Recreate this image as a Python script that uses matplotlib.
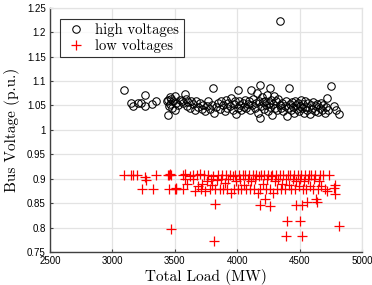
import numpy as np
import matplotlib
matplotlib.use("Agg")
import matplotlib.pyplot as plt

# ---------------------------------------
# Data
# ---------------------------------------
high_load = [3094, 3150, 3166, 3206, 3230, 3265, 3266, 3320, 3347, 3440, 3445, 3450, 3455,
             3460, 3463, 3470, 3480, 3490, 3500, 3505, 3510, 3525, 3540, 3560, 3570, 3583,
             3590, 3600, 3610, 3620, 3630, 3645, 3660, 3670, 3690, 3700, 3715, 3730, 3745,
             3760, 3770, 3785, 3800, 3810, 3815, 3830, 3845, 3860, 3870, 3890, 3900, 3910,
             3920, 3930, 3945, 3955, 3965, 3975, 3985, 3995, 4005, 4011, 4015, 4025, 4035,
             4045, 4055, 4065, 4075, 4085, 4095, 4105, 4111, 4120, 4130, 4140, 4150, 4160,
             4165, 4175, 4186, 4186, 4190, 4200, 4205, 4215, 4220, 4230, 4240, 4245, 4255,
             4260, 4267, 4275, 4280, 4290, 4295, 4305, 4310, 4320, 4330, 4340, 4346, 4350,
             4360, 4370, 4380, 4390, 4400, 4405, 4418, 4425, 4430, 4440, 4450, 4455, 4465,
             4470, 4480, 4490, 4495, 4505, 4510, 4520, 4530, 4535, 4545, 4555, 4560, 4570,
             4580, 4590, 4600, 4610, 4620, 4630, 4640, 4650, 4660, 4670, 4680, 4690, 4700,
             4710, 4720, 4730, 4752, 4775, 4790, 4814]
high_volt = [1.081, 1.054, 1.049, 1.054, 1.055, 1.071, 1.048, 1.052, 1.060, 1.058, 1.062, 1.030, 1.048,
             1.068, 1.052, 1.064, 1.045, 1.060, 1.070, 1.040, 1.055, 1.050, 1.062, 1.058, 1.055, 1.073,
             1.064, 1.048, 1.056, 1.045, 1.060, 1.052, 1.040, 1.058, 1.047, 1.055, 1.042, 1.050, 1.038,
             1.048, 1.058, 1.043, 1.050, 1.085, 1.035, 1.047, 1.055, 1.042, 1.060, 1.050, 1.038, 1.062,
             1.045, 1.055, 1.048, 1.065, 1.040, 1.052, 1.058, 1.033, 1.045, 1.081, 1.060, 1.050, 1.040,
             1.055, 1.047, 1.062, 1.044, 1.052, 1.058, 1.040, 1.081, 1.050, 1.064, 1.045, 1.055, 1.075,
             1.035, 1.060, 1.092, 1.024, 1.048, 1.068, 1.056, 1.042, 1.060, 1.050, 1.072, 1.038, 1.055,
             1.046, 1.085, 1.062, 1.030, 1.052, 1.070, 1.045, 1.058, 1.040, 1.064, 1.050, 1.222, 1.045,
             1.055, 1.038, 1.048, 1.058, 1.028, 1.044, 1.085, 1.052, 1.040, 1.056, 1.046, 1.035, 1.060,
             1.050, 1.042, 1.055, 1.038, 1.048, 1.062, 1.044, 1.052, 1.035, 1.058, 1.046, 1.040, 1.055,
             1.032, 1.050, 1.042, 1.056, 1.038, 1.048, 1.052, 1.036, 1.045, 1.055, 1.040, 1.050, 1.034,
             1.046, 1.066, 1.040, 1.090, 1.048, 1.040, 1.032]

low_load = [3096, 3150, 3168, 3196, 3265, 3270, 3237, 3325, 3351, 3444, 3451, 3455, 3462, 3469,
            3469, 3500, 3508, 3512, 3565, 3570, 3580, 3583, 3600, 3620, 3650, 3650, 3660, 3680,
            3690, 3700, 3710, 3720, 3735, 3745, 3760, 3770, 3780, 3790, 3800, 3810, 3819, 3811,
            3825, 3835, 3850, 3860, 3870, 3880, 3890, 3900, 3910, 3920, 3930, 3945, 3955, 3965,
            3975, 3985, 3995, 4005, 4015, 4025, 4035, 4045, 4055, 4065, 4075, 4085, 4095, 4105,
            4115, 4125, 4135, 4145, 4155, 4165, 4175, 4185, 4186, 4195, 4205, 4215, 4226, 4230,
            4240, 4250, 4260, 4267, 4270, 4280, 4290, 4300, 4310, 4320, 4330, 4340, 4350, 4360,
            4370, 4380, 4391, 4400, 4395, 4405, 4415, 4425, 4435, 4445, 4455, 4465, 4471, 4475,
            4485, 4495, 4506, 4505, 4515, 4519, 4519, 4525, 4535, 4545, 4555, 4559, 4565, 4575,
            4585, 4595, 4605, 4615, 4625, 4631, 4639, 4645, 4655, 4665, 4675, 4690, 4700, 4720,
            4740, 4775, 4787, 4787, 4814]
low_volt = [0.908, 0.908, 0.908, 0.908, 0.903, 0.897, 0.878, 0.878, 0.908, 0.908, 0.878, 0.908, 0.910, 0.908,
            0.797, 0.878, 0.878, 0.880, 0.878, 0.908, 0.900, 0.910, 0.890, 0.905, 0.908, 0.900, 0.875, 0.908,
            0.885, 0.910, 0.878, 0.890, 0.908, 0.875, 0.895, 0.908, 0.878, 0.900, 0.888, 0.905, 0.848, 0.773,
            0.878, 0.897, 0.908, 0.878, 0.900, 0.908, 0.878, 0.892, 0.908, 0.878, 0.900, 0.908, 0.870, 0.905,
            0.878, 0.908, 0.895, 0.878, 0.908, 0.900, 0.878, 0.908, 0.888, 0.908, 0.878, 0.900, 0.908, 0.878,
            0.895, 0.908, 0.878, 0.900, 0.908, 0.870, 0.905, 0.878, 0.847, 0.908, 0.890, 0.908, 0.859, 0.878,
            0.900, 0.908, 0.878, 0.845, 0.905, 0.908, 0.870, 0.895, 0.908, 0.878, 0.900, 0.908, 0.878, 0.890,
            0.908, 0.878, 0.783, 0.814, 0.900, 0.908, 0.888, 0.908, 0.878, 0.900, 0.908, 0.878, 0.847, 0.895,
            0.908, 0.885, 0.814, 0.900, 0.908, 0.783, 0.847, 0.878, 0.895, 0.908, 0.878, 0.852, 0.900, 0.908,
            0.885, 0.908, 0.878, 0.900, 0.908, 0.858, 0.853, 0.878, 0.895, 0.908, 0.885, 0.908, 0.878, 0.874,
            0.908, 0.880, 0.888, 0.869, 0.803]

x_ticks = [2500, 3000, 3500, 4000, 4500, 5000]
y_ticks = [0.75, 0.8, 0.85, 0.9, 0.95, 1, 1.05, 1.1, 1.15, 1.2, 1.25]

# ---------------------------------------
# Plot
# ---------------------------------------
fig = plt.figure(figsize=(3.72, 2.85), dpi=100)
ax = fig.add_axes([0.134, 0.116, 0.839, 0.857])

ax.plot(high_load, high_volt, "o", mfc="none", mec="black", ms=5.4, mew=0.75,
        label="high voltages", zorder=3)
ax.plot(low_load, low_volt, "+", color="red", ms=7, mew=0.9,
        label="low voltages", zorder=3)

ax.set_xlim(2500, 5000)
ax.set_ylim(0.75, 1.25)
ax.set_xticks(x_ticks)
ax.set_yticks(y_ticks)
ax.set_xticklabels([str(v) for v in x_ticks], family="Liberation Sans", fontsize=7)
ax.set_yticklabels([f"{v:g}" for v in y_ticks], family="Liberation Sans", fontsize=7)
ax.tick_params(direction="in", length=2.5, width=0.8, color="#404040", pad=3)

ax.grid(True, color="#e3e3e3", lw=0.9)
ax.set_axisbelow(True)
for side in ["left", "bottom"]:
    ax.spines[side].set_color("#404040")
    ax.spines[side].set_linewidth(1.0)
for side in ["top", "right"]:
    ax.spines[side].set_color("#e3e3e3")
    ax.spines[side].set_linewidth(0.9)

ax.set_xlabel("Total Load (MW)", family="cmr10", fontsize=11, labelpad=2)
ax.set_ylabel("Bus Voltage (p.u.)", family="cmr10", fontsize=11, labelpad=5)

leg = ax.legend(loc="upper left", bbox_to_anchor=(0.01, 0.985), prop={"family": "cmr10", "size": 10.5},
                frameon=True, fancybox=False, edgecolor="black", handletextpad=0.6,
                borderpad=0.3, labelspacing=0.15, handlelength=1.5)
leg.get_frame().set_linewidth(0.8)

fig.savefig("out.png", dpi=100)
